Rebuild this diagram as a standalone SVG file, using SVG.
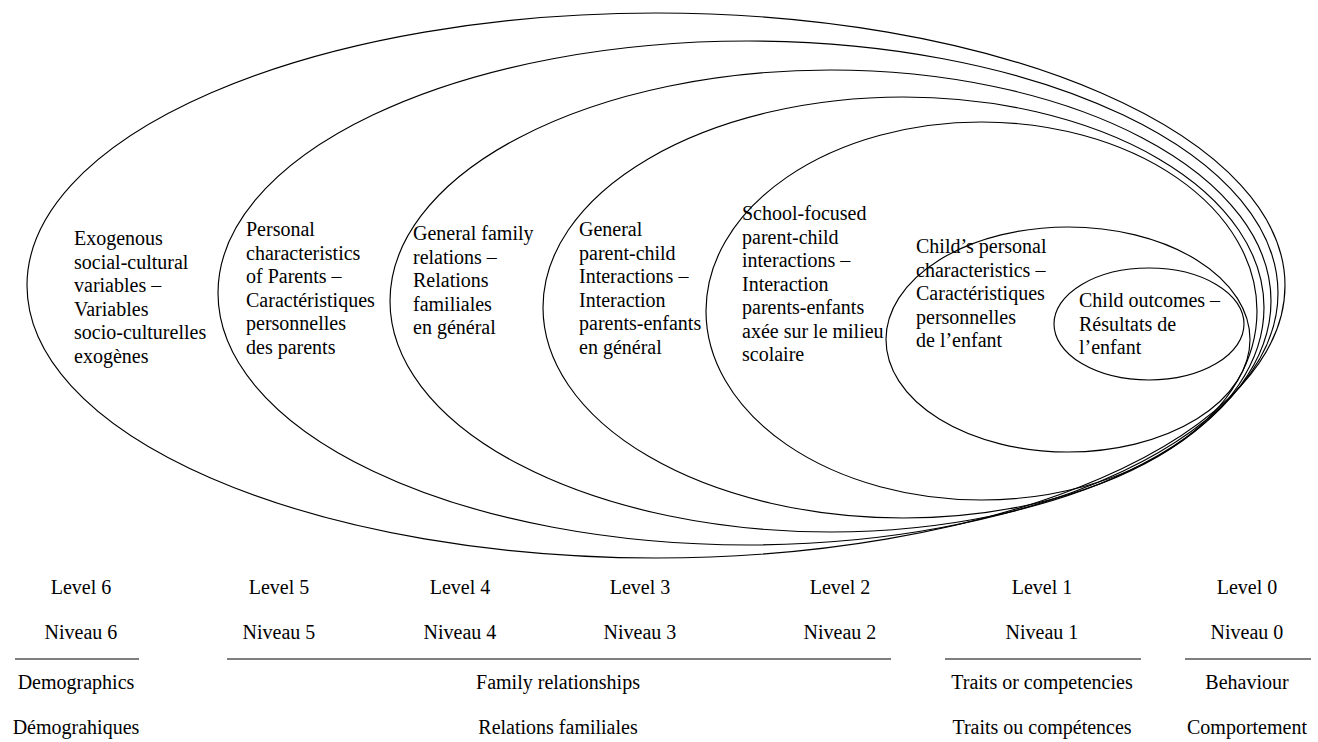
<svg xmlns="http://www.w3.org/2000/svg" width="1318" height="742" viewBox="0 0 1318 742">
<style>
.e{fill:none;stroke:#000;stroke-width:1.15}
.t{font-family:'Liberation Serif','DejaVu Serif',serif;font-size:20px;fill:#000}
.c{text-anchor:middle}
.r{stroke:#000;stroke-width:1.2}
</style>
<rect width="1318" height="742" fill="#fff"/>
<g id="level6">
<ellipse class="e" cx="656" cy="285.5" rx="629" ry="272.5"/>
<text class="t"><tspan x="74" y="245">Exogenous</tspan><tspan x="74" y="268.5">social-cultural</tspan><tspan x="74" y="292">variables –</tspan><tspan x="74" y="315.5">Variables</tspan><tspan x="74" y="339">socio-culturelles</tspan><tspan x="74" y="362.5">exogènes</tspan></text>
</g>
<g id="level5">
<ellipse class="e" cx="748" cy="293" rx="530" ry="252"/>
<text class="t"><tspan x="246" y="236">Personal</tspan><tspan x="246" y="259.5">characteristics</tspan><tspan x="246" y="283">of Parents –</tspan><tspan x="246" y="306.5">Caractéristiques</tspan><tspan x="246" y="330">personnelles</tspan><tspan x="246" y="353.5">des parents</tspan></text>
</g>
<g id="level4">
<ellipse class="e" cx="830.5" cy="301" rx="440.5" ry="231"/>
<text class="t"><tspan x="413" y="240">General family</tspan><tspan x="413" y="263.5">relations –</tspan><tspan x="413" y="287">Relations</tspan><tspan x="413" y="310.5">familiales</tspan><tspan x="413" y="334">en général</tspan></text>
</g>
<g id="level3">
<ellipse class="e" cx="903.5" cy="307.5" rx="360.5" ry="210.5"/>
<text class="t"><tspan x="579" y="236">General</tspan><tspan x="579" y="259.5">parent-child</tspan><tspan x="579" y="283">Interactions –</tspan><tspan x="579" y="306.5">Interaction</tspan><tspan x="579" y="330">parents-enfants</tspan><tspan x="579" y="353.5">en général</tspan></text>
</g>
<g id="level2">
<ellipse class="e" cx="981.5" cy="311" rx="275.5" ry="189"/>
<text class="t"><tspan x="742" y="220">School-focused</tspan><tspan x="742" y="243.5">parent-child</tspan><tspan x="742" y="267">interactions –</tspan><tspan x="742" y="290.5">Interaction</tspan><tspan x="742" y="314">parents-enfants</tspan><tspan x="742" y="337.5">axée sur le milieu</tspan><tspan x="742" y="361">scolaire</tspan></text>
</g>
<g id="level1">
<ellipse class="e" cx="1068" cy="339.5" rx="182" ry="112.5"/>
<text class="t"><tspan x="916" y="253">Child’s personal</tspan><tspan x="916" y="276.5">characteristics –</tspan><tspan x="916" y="300">Caractéristiques</tspan><tspan x="916" y="323.5">personnelles</tspan><tspan x="916" y="347">de l’enfant</tspan></text>
</g>
<g id="level0">
<ellipse class="e" cx="1149" cy="324" rx="95" ry="56"/>
<text class="t"><tspan x="1079" y="307">Child outcomes –</tspan><tspan x="1079" y="330.5">Résultats de</tspan><tspan x="1079" y="354">l’enfant</tspan></text>
</g>
<g id="levels">
<text class="t c" x="81" y="594">Level 6</text>
<text class="t c" x="81" y="639">Niveau 6</text>
<text class="t c" x="279" y="594">Level 5</text>
<text class="t c" x="279" y="639">Niveau 5</text>
<text class="t c" x="460" y="594">Level 4</text>
<text class="t c" x="460" y="639">Niveau 4</text>
<text class="t c" x="640" y="594">Level 3</text>
<text class="t c" x="640" y="639">Niveau 3</text>
<text class="t c" x="840" y="594">Level 2</text>
<text class="t c" x="840" y="639">Niveau 2</text>
<text class="t c" x="1042" y="594">Level 1</text>
<text class="t c" x="1042" y="639">Niveau 1</text>
<text class="t c" x="1247" y="594">Level 0</text>
<text class="t c" x="1247" y="639">Niveau 0</text>
</g>
<g id="categories">
<line class="r" x1="15" y1="659" x2="139" y2="659"/>
<line class="r" x1="227" y1="659" x2="891" y2="659"/>
<line class="r" x1="945" y1="659" x2="1141" y2="659"/>
<line class="r" x1="1185" y1="659" x2="1311" y2="659"/>
<text class="t c" x="76" y="689">Demographics</text>
<text class="t c" x="76" y="734">Démograhiques</text>
<text class="t c" x="558" y="689">Family relationships</text>
<text class="t c" x="558" y="734">Relations familiales</text>
<text class="t c" x="1042" y="689">Traits or competencies</text>
<text class="t c" x="1042" y="734">Traits ou compétences</text>
<text class="t c" x="1247" y="689">Behaviour</text>
<text class="t c" x="1247" y="734">Comportement</text>
</g>
</svg>
